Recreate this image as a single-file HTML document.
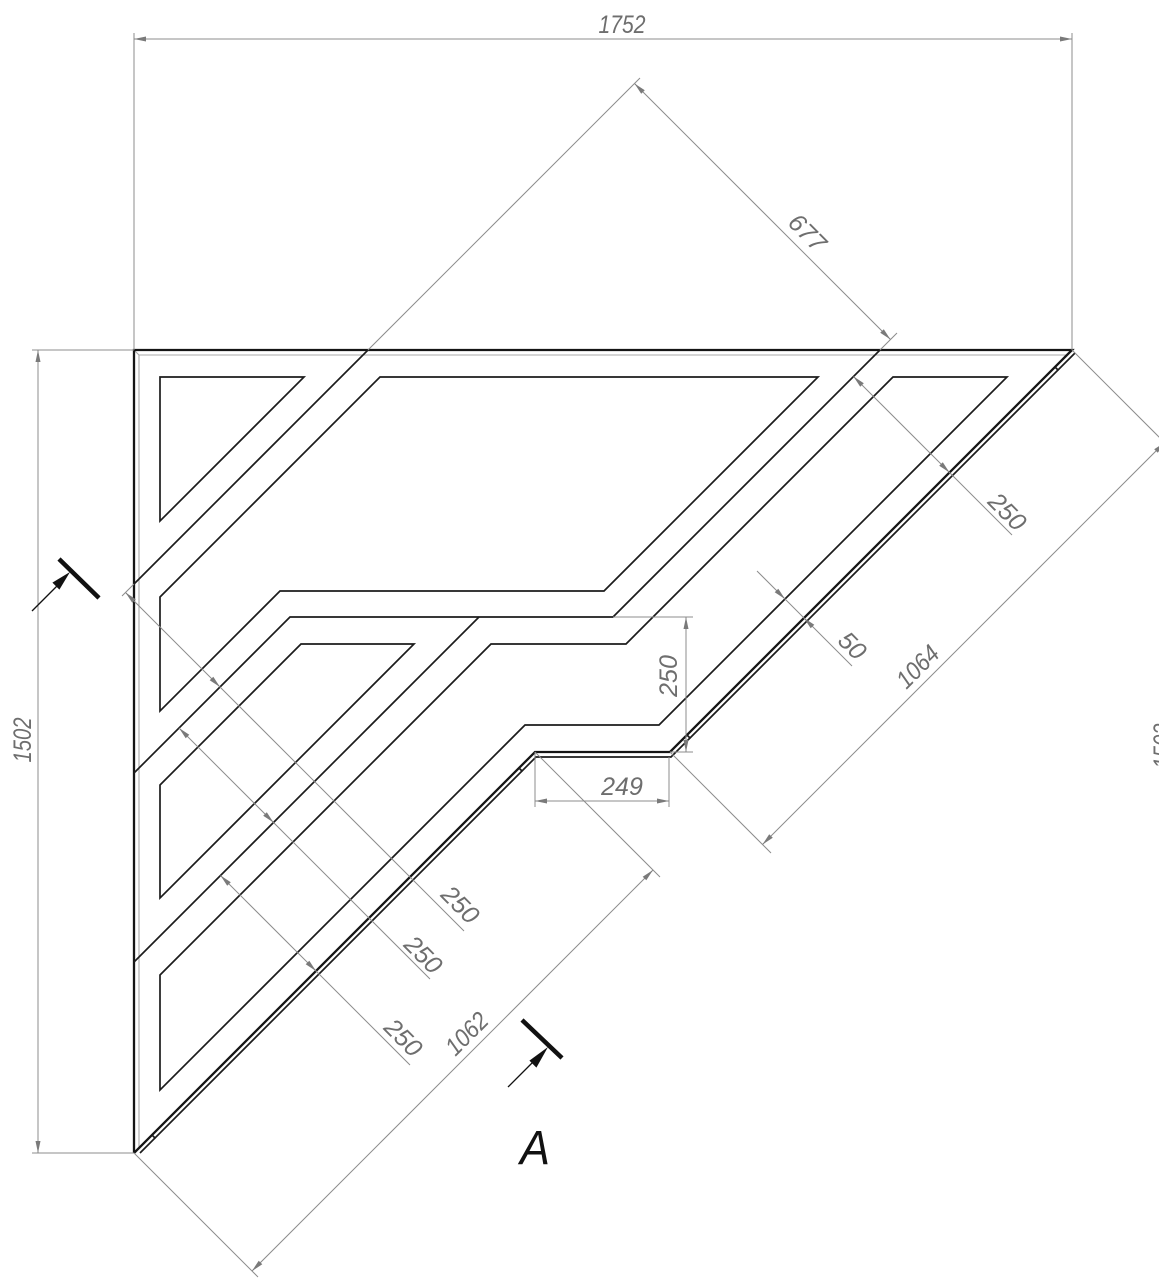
<!DOCTYPE html>
<html>
<head>
<meta charset="utf-8">
<style>
html,body{margin:0;padding:0;background:#fff;}
svg{display:block;}
.d{fill:none;stroke:#1c1c1c;stroke-width:1.7;stroke-linejoin:miter;}
.o{fill:none;stroke:#151515;stroke-width:2.3;}
.g{fill:none;stroke:#8c8c8c;stroke-width:1;}
.gi{fill:none;stroke:#a8a8a8;stroke-width:1.1;}
.ah{fill:#7a7a7a;stroke:none;}
.t{font-family:"Liberation Sans",sans-serif;font-style:italic;font-size:25px;fill:#6e6e6e;}
</style>
</head>
<body>
<svg width="1159" height="1280" viewBox="0 0 1159 1280" xmlns="http://www.w3.org/2000/svg">
<rect width="1159" height="1280" fill="#fff"/>

<!-- inner gray lines -->
<path class="gi" d="M139,1148 V355 H1067"/>
<path class="gi" d="M134,350 L139,355"/>

<!-- outer contour -->
<path class="o" d="M134,1153 V350 H1072 L670,752 H535 L134,1153"/>
<path class="d" d="M1075,353 L671,757 H536 L140,1153"/>
<!-- caps on double edge -->
<path class="d" d="M152,1135 L155.5,1138.5 M519,768 L522.5,771.5 M687,735 L690.5,738.5 M1055,367 L1058.5,370.5" />

<!-- panels -->
<path class="d" d="M160,377 H304 L160,521 Z"/>
<path class="d" d="M380,377 H818 L604,591 H280 L160,711 V597 Z"/>
<path class="d" d="M301,644 H414 L160,898 V785 Z"/>
<path class="d" d="M160,975 L491,644 H626 L893,377 H1007 L659,725 H525 L160,1090 Z"/>

<!-- cut lines -->
<path class="d" d="M368,350 L134,584"/>
<path class="d" d="M880,350 L613,617 H290 L134,773"/>
<path class="d" d="M479,617 L134,962"/>

<!-- ===== Dimensions ===== -->
<!-- 1752 -->
<path class="g" d="M134,33 V350 M1072,33 V350 M134,39 H1072"/>
<polygon class="ah" points="134,39 146,36.5 146,41.5"/>
<polygon class="ah" points="1072,39 1060,36.5 1060,41.5"/>
<text class="t" x="622" y="33" text-anchor="middle" textLength="47" lengthAdjust="spacingAndGlyphs">1752</text>

<!-- 1502 left -->
<path class="g" d="M32,350 H134 M32,1153 H134 M38,350 V1153"/>
<polygon class="ah" points="38,350 35.5,362 40.5,362"/>
<polygon class="ah" points="38,1153 35.5,1141 40.5,1141"/>
<text class="t" text-anchor="middle" dominant-baseline="central" textLength="45" lengthAdjust="spacingAndGlyphs" transform="translate(23,740) rotate(-90)">1502</text>

<!-- 1502 right (cut off) -->
<text class="t" text-anchor="middle" dominant-baseline="central" textLength="45" lengthAdjust="spacingAndGlyphs" transform="translate(1163,746) rotate(-90)">1502</text>

<!-- 677 -->
<path class="g" d="M368,350 L640,78 M880,350 L897,333 M634.5,83.5 L890.5,339.5"/>
<polygon class="ah" points="634.5,83.5 644.8,90.2 641.2,93.8"/>
<polygon class="ah" points="890.5,339.5 883.8,329.2 880.2,332.8"/>
<text class="t" text-anchor="middle" dominant-baseline="central" transform="translate(807,233) rotate(45)">677</text>

<!-- 250 top right -->
<path class="g" d="M853.5,376.5 L1012,535"/>
<polygon class="ah" points="853.5,376.5 863.8,383.2 860.2,386.8"/>
<polygon class="ah" points="949.5,472.5 942.8,462.2 939.2,465.8"/>
<text class="t" text-anchor="middle" dominant-baseline="central" transform="translate(1007,512) rotate(45)">250</text>

<!-- 50 -->
<path class="g" d="M757,571 L852,666"/>
<polygon class="ah" points="785,599 778.3,588.7 774.7,592.3"/>
<polygon class="ah" points="804,618 814.3,624.7 810.7,628.3"/>
<text class="t" text-anchor="middle" dominant-baseline="central" transform="translate(852,646) rotate(45)">50</text>

<!-- 1064 -->
<path class="g" d="M1072,350 L1172,450 M670,752 L771,853 M762.5,844.5 L1164.5,442.5"/>
<polygon class="ah" points="762.5,844.5 769.2,834.2 772.8,837.8"/>
<polygon class="ah" points="1164.5,442.5 1154.2,449.2 1157.8,452.8"/>
<text class="t" text-anchor="middle" dominant-baseline="central" textLength="49" lengthAdjust="spacingAndGlyphs" transform="translate(918,667) rotate(-45)">1064</text>

<!-- 250 vertical -->
<path class="g" d="M613,617 H693 M670,752 H693 M686,617 V752"/>
<polygon class="ah" points="686,617 683.5,629 688.5,629"/>
<polygon class="ah" points="686,752 683.5,740 688.5,740"/>
<text class="t" text-anchor="middle" dominant-baseline="central" transform="translate(669,676) rotate(-90)">250</text>

<!-- 249 -->
<path class="g" d="M535,752 V807 M669,757 V807 M535,801 H669"/>
<polygon class="ah" points="535,801 547,798.5 547,803.5"/>
<polygon class="ah" points="669,801 657,798.5 657,803.5"/>
<text class="t" x="622" y="795" text-anchor="middle">249</text>

<!-- 250 #1 -->
<path class="g" d="M134,584 L122,596 M125.5,592.5 L464,931"/>
<polygon class="ah" points="125.5,592.5 135.8,599.2 132.2,602.8"/>
<polygon class="ah" points="220,687 213.3,676.7 209.7,680.3"/>
<text class="t" text-anchor="middle" dominant-baseline="central" transform="translate(460,905) rotate(45)">250</text>

<!-- 250 #2 -->
<path class="g" d="M179,728 L430,979"/>
<polygon class="ah" points="179,728 189.3,734.7 185.7,738.3"/>
<polygon class="ah" points="273.5,822.5 266.8,812.2 263.2,815.8"/>
<text class="t" text-anchor="middle" dominant-baseline="central" transform="translate(423,955) rotate(45)">250</text>

<!-- 250 #3 -->
<path class="g" d="M220.5,875.5 L410,1065"/>
<polygon class="ah" points="220.5,875.5 230.8,882.2 227.2,885.8"/>
<polygon class="ah" points="316,971 309.3,960.7 305.7,964.3"/>
<text class="t" text-anchor="middle" dominant-baseline="central" transform="translate(403,1038) rotate(45)">250</text>

<!-- 1062 -->
<path class="g" d="M134,1153 L258,1277 M535,752 L660,877 M252,1271 L653,870"/>
<polygon class="ah" points="252,1271 258.7,1260.7 262.3,1264.3"/>
<polygon class="ah" points="653,870 642.7,876.7 646.3,880.3"/>
<text class="t" text-anchor="middle" dominant-baseline="central" textLength="49" lengthAdjust="spacingAndGlyphs" transform="translate(467,1034) rotate(-45)">1062</text>

<!-- Section marker top-left -->
<path d="M59,559 L99,598" stroke="#111" stroke-width="4.5" fill="none"/>
<path d="M32,611 L66,577" stroke="#111" stroke-width="1.3" fill="none"/>
<polygon points="70,572 59.4,589.6 52.4,582.6" fill="#111"/>

<!-- Section marker bottom -->
<path d="M522,1020 L562,1058" stroke="#111" stroke-width="4.5" fill="none"/>
<path d="M508,1087 L544,1051" stroke="#111" stroke-width="1.3" fill="none"/>
<polygon points="548,1047 536.4,1067.6 529.4,1060.6" fill="#111"/>

<!-- A label -->
<text x="535" y="1164" text-anchor="middle" font-family="Liberation Sans, sans-serif" font-style="italic" font-size="48" fill="#111" textLength="30" lengthAdjust="spacingAndGlyphs">A</text>
</svg>
</body>
</html>
